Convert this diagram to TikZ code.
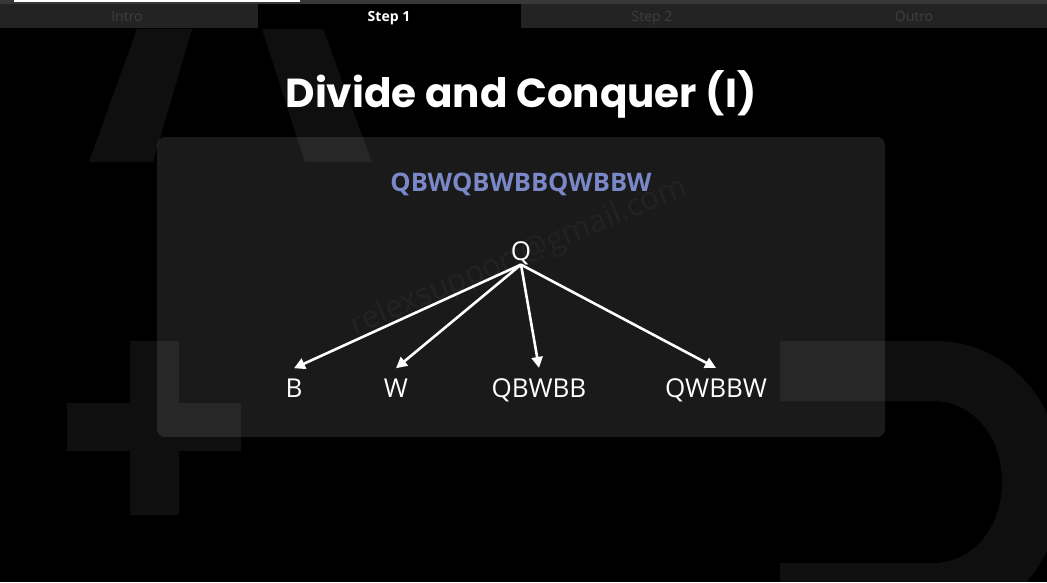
\documentclass[tikz,border=0pt]{standalone}
\usepackage{fontspec}
\setmainfont{Open Sans}
\newfontfamily\titlefont{Poppins}
\usetikzlibrary{arrows.meta}

\definecolor{tabbar}{HTML}{232323}
\definecolor{tabline}{HTML}{383838}
\definecolor{tabtext}{HTML}{3F3F3F}
\definecolor{panelbg}{HTML}{1A1A1A}
\definecolor{seqblue}{HTML}{7B88C8}

\tikzset{
  ghost/.style={fill=white, fill opacity=0.06},
  tablabel/.style={anchor=base, inner sep=0pt, text=tabtext,
    font=\fontsize{14}{16}\selectfont},
  treelabel/.style={anchor=base, inner xsep=0pt, inner ysep=10pt, text=white,
    font=\fontsize{26}{30}\selectfont},
  branch/.style={draw=white, line width=2.6pt,
    -{Triangle[length=11pt,width=11pt]}},
  stamp/.style={text=white, font=\fontsize{31}{34}\selectfont, rotate=23}
}

\begin{document}
\begin{tikzpicture}[x=1pt,y=-1pt]
  \useasboundingbox (0,0) rectangle (1047,582);
  \fill[black] (0,0) rectangle (1047,582);

  % tab strip with progress bar
  \fill[tabline] (0,0) rectangle (1047,4);
  \fill[white] (14,0) rectangle (300,2);
  \fill[tabbar] (0,4) rectangle (1047,28);
  \fill[black] (258,4) rectangle (521,28);
  \node[tablabel] (tabintro) at (127,21) {Intro};
  \node[tablabel, text=white, font=\bfseries\fontsize{14}{16}\selectfont] (tabone) at (389,21) {Step 1};
  \node[tablabel] (tabtwo) at (652,21) {Step 2};
  \node[tablabel] (tabouttro) at (914,21) {Outro};

  % content panel
  \fill[panelbg, rounded corners=8pt] (157,137) rectangle (885,437);

  % large faint background glyphs
  \fill[ghost] (137,29) -- (192,29) -- (153,162) -- (89,162) -- cycle;
  \fill[ghost] (262,29) -- (323,29) -- (372,162) -- (305,162) -- cycle;
  \fill[ghost] (130,341) -- (179,341) -- (179,403) -- (241,403) -- (241,451)
     -- (179,451) -- (179,515) -- (130,515) -- (130,451) -- (67,451)
     -- (67,403) -- (130,403) -- cycle;
  \fill[ghost] (780,341) -- (935,341) .. controls (1008,341) and (1062,402) .. (1062,482)
     .. controls (1062,562) and (1008,623) .. (935,623) -- (780,623) -- (780,563)
     -- (932,563) .. controls (973,563) and (1002,528) .. (1002,482)
     .. controls (1002,436) and (973,401) .. (932,401) -- (780,401) -- cycle;

  % faint stamp across the panel
  \node[stamp, text opacity=0.04] (stampa) at (519,257) {relexsupport@gmail.com};

  % title
  \node[anchor=base, inner sep=0pt, text=white,
        font=\titlefont\bfseries\fontsize{40.5}{44}\selectfont] (title) at (521,107)
        {Divide and Conquer (I)};

  % input string
  \node[anchor=base, inner sep=0pt, text=seqblue,
        font=\bfseries\fontsize{25.5}{30}\selectfont] (seq) at (521,191) {QBWQBWBBQWBBW};

  % split tree
  \node[anchor=base, inner sep=0pt, text=white,
        font=\fontsize{26}{30}\selectfont] (q) at (521,260) {Q};
  \node[treelabel] (b) at (294,397) {B};
  \node[treelabel] (w) at (396,397) {W};
  \node[treelabel] (qb) at (539,397) {QBWBB};
  \node[treelabel] (qw) at (716,397) {QWBBW};

  \draw[branch] (q.south) -- (b.north);
  \draw[branch] (q.south) -- (w.north);
  \draw[branch] (q.south) -- (qb.north);
  \draw[branch] (q.south) -- (qw.north);
\end{tikzpicture}
\end{document}
